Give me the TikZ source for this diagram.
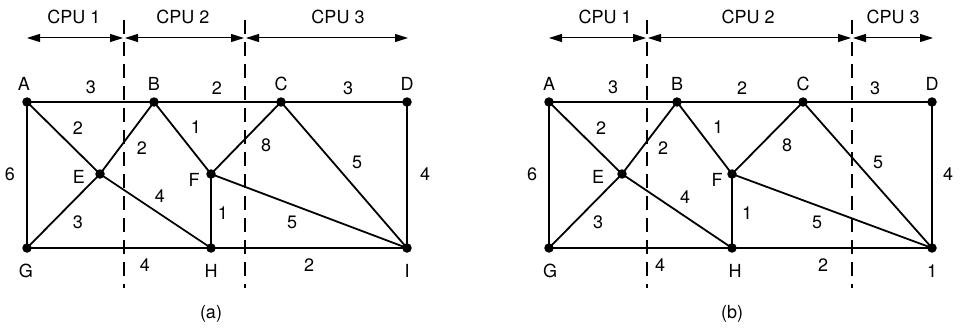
\documentclass[tikz,border=0pt]{standalone}
\usepackage{fontspec}
\setmainfont{TeX Gyre Heros}
\usetikzlibrary{arrows.meta}
\tikzset{
  vtx/.style={circle,fill=black,inner sep=0pt,minimum size=9.5pt},
  edge/.style={line width=1.8pt},
  part/.style={line width=1.3pt,dash pattern=on 14pt off 8pt},
  span/.style={line width=1pt,{Triangle[length=13pt,width=8pt]}-{Triangle[length=13pt,width=8pt]},shorten <=1pt,shorten >=1pt},
  lbl/.style={font=\fontsize{18}{20}\selectfont,inner sep=0pt}
}
\begin{document}
\begin{tikzpicture}[x=1pt,y=-1pt]
\useasboundingbox (0,0) rectangle (960,329);
% ---------------- (a) ----------------
\begin{scope}
\node[vtx] (A) at (27,102) {};
\node[vtx] (B) at (154,102) {};
\node[vtx] (C) at (281,102) {};
\node[vtx] (D) at (407,102) {};
\node[vtx] (E) at (100,174) {};
\node[vtx] (F) at (211,174) {};
\node[vtx] (G) at (27,248) {};
\node[vtx] (H) at (211,248) {};
\node[vtx] (I) at (407,248) {};
\draw[edge] (A.center) -- (B.center) -- (C.center) -- (D.center) -- (I.center) -- (H.center) -- (G.center) -- (A.center);
\draw[edge] (A.center) -- (E.center) -- (H.center);
\draw[edge] (G.center) -- (E.center) -- (B.center);
\draw[edge] (B.center) -- (F.center) -- (C.center);
\draw[edge] (F.center) -- (H.center);
\draw[edge] (F.center) -- (I.center);
\draw[edge] (C.center) -- (I.center);
\coordinate (d1t) at (124,20); \coordinate (d1b) at (124,288);
\coordinate (d2t) at (245,20); \coordinate (d2b) at (245,288);
\draw[part] (d1t) -- (d1b);
\draw[part] (d2t) -- (d2b);
\coordinate (s0) at (26,38); \coordinate (s1) at (124,38);
\coordinate (s2) at (245,38); \coordinate (s3) at (409,38);
\draw[span] (s0) -- (s1);
\draw[span] (s1) -- (s2);
\draw[span] (s2) -- (s3);
\node[lbl] (a-cpu1) at (74,17) {CPU 1};
\node[lbl] (a-cpu2) at (183,17) {CPU 2};
\node[lbl] (a-cpu3) at (338,17) {CPU 3};
\node[lbl] (a-lA) at (24,84) {A};
\node[lbl] (a-lB) at (154,84) {B};
\node[lbl] (a-lC) at (281,84) {C};
\node[lbl] (a-lD) at (407,84) {D};
\node[lbl] (a-lE) at (79,177) {E};
\node[lbl] (a-lF) at (194,180) {F};
\node[lbl] (a-lG) at (26,271) {G};
\node[lbl] (a-lH) at (211,271) {H};
\node[lbl] (a-lI) at (407,271) {I};
\node[lbl] (a-wAB) at (91,87) {3};
\node[lbl] (a-wBC) at (217,88) {2};
\node[lbl] (a-wCD) at (348,88) {3};
\node[lbl] (a-wAE) at (78,128) {2};
\node[lbl] (a-wBE) at (142,148) {2};
\node[lbl] (a-wBF) at (196,127) {1};
\node[lbl] (a-wCF) at (266,145) {8};
\node[lbl] (a-wCI) at (357,162) {5};
\node[lbl] (a-wAG) at (10,174) {6};
\node[lbl] (a-wDI) at (425,174) {4};
\node[lbl] (a-wEH) at (160,196) {4};
\node[lbl] (a-wFH) at (223,213) {1};
\node[lbl] (a-wFI) at (292,222) {5};
\node[lbl] (a-wEG) at (78,222) {3};
\node[lbl] (a-wGH) at (145,265) {4};
\node[lbl] (a-wHI) at (309,265) {2};
\node[lbl] (a-cap) at (211,314) {(a)};
\end{scope}
% ---------------- (b) ----------------
\begin{scope}
\node[vtx] (bA) at (549,102) {};
\node[vtx] (bB) at (677,102) {};
\node[vtx] (bC) at (803,102) {};
\node[vtx] (bD) at (932,102) {};
\node[vtx] (bE) at (622,174) {};
\node[vtx] (bF) at (732,174) {};
\node[vtx] (bG) at (549,248) {};
\node[vtx] (bH) at (732,248) {};
\node[vtx] (bI) at (932,248) {};
\draw[edge] (bA.center) -- (bB.center) -- (bC.center) -- (bD.center) -- (bI.center) -- (bH.center) -- (bG.center) -- (bA.center);
\draw[edge] (bA.center) -- (bE.center) -- (bH.center);
\draw[edge] (bG.center) -- (bE.center) -- (bB.center);
\draw[edge] (bB.center) -- (bF.center) -- (bC.center);
\draw[edge] (bF.center) -- (bH.center);
\draw[edge] (bF.center) -- (bI.center);
\draw[edge] (bC.center) -- (bI.center);
\coordinate (e1t) at (647,20); \coordinate (e1b) at (647,288);
\coordinate (e2t) at (852,20); \coordinate (e2b) at (852,288);
\draw[part] (e1t) -- (e1b);
\draw[part] (e2t) -- (e2b);
\coordinate (t0) at (548,38); \coordinate (t1) at (647,38);
\coordinate (t2) at (852,38); \coordinate (t3) at (934,38);
\draw[span] (t0) -- (t1);
\draw[span] (t1) -- (t2);
\draw[span] (t2) -- (t3);
\node[lbl] (b-cpu1) at (605,17) {CPU 1};
\node[lbl] (b-cpu2) at (748,17) {CPU 2};
\node[lbl] (b-cpu3) at (893,17) {CPU 3};
\node[lbl] (b-lA) at (549,84) {A};
\node[lbl] (b-lB) at (677,84) {B};
\node[lbl] (b-lC) at (803,84) {C};
\node[lbl] (b-lD) at (932,84) {D};
\node[lbl] (b-lE) at (598,177) {E};
\node[lbl] (b-lF) at (717,180) {F};
\node[lbl] (b-lG) at (550,271) {G};
\node[lbl] (b-lH) at (735,271) {H};
\node[lbl] (b-lI) at (932,271) {1};
\node[lbl] (b-wAB) at (613,87) {3};
\node[lbl] (b-wBC) at (742,88) {2};
\node[lbl] (b-wCD) at (875,88) {3};
\node[lbl] (b-wAE) at (601,128) {2};
\node[lbl] (b-wBE) at (663,148) {2};
\node[lbl] (b-wBF) at (718,127) {1};
\node[lbl] (b-wCF) at (787,145) {8};
\node[lbl] (b-wCI) at (878,162) {5};
\node[lbl] (b-wAG) at (532,174) {6};
\node[lbl] (b-wDI) at (948,174) {4};
\node[lbl] (b-wEH) at (685,197) {4};
\node[lbl] (b-wFH) at (747,213) {1};
\node[lbl] (b-wFI) at (817,222) {5};
\node[lbl] (b-wEG) at (598,222) {3};
\node[lbl] (b-wGH) at (660,265) {4};
\node[lbl] (b-wHI) at (823,265) {2};
\node[lbl] (b-cap) at (732,314) {(b)};
\end{scope}
\end{tikzpicture}
\end{document}
